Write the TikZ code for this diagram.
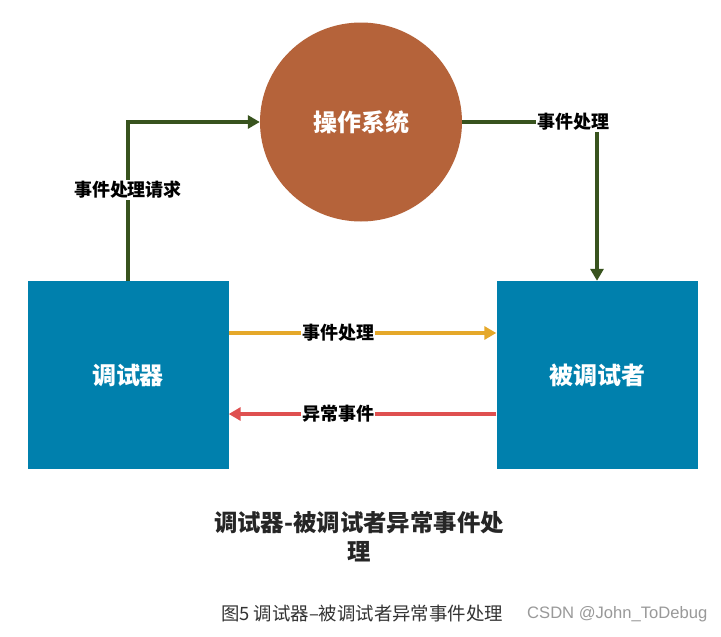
\documentclass[tikz,border=0pt]{standalone}
\usepackage{fontspec}
\setmainfont{Noto Sans CJK SC}
\newfontfamily\latinsans{Liberation Sans}
\usetikzlibrary{arrows.meta,shapes.geometric}
\definecolor{osbrown}{HTML}{B5633A}
\definecolor{boxblue}{HTML}{0080AD}
\definecolor{lgreen}{HTML}{38531E}
\definecolor{lyellow}{HTML}{E5A82A}
\definecolor{lred}{HTML}{DF5050}
\definecolor{capgray}{HTML}{999999}
\begin{document}
\begin{tikzpicture}[x=1pt,y=-1pt,
  bluebox/.style={draw=none,fill=boxblue,minimum width=201pt,minimum height=188pt,inner sep=0pt,text=white,font=\bfseries\fontsize{24}{28}\selectfont},
  osnode/.style={ellipse,fill=osbrown,minimum width=202pt,minimum height=199pt,inner sep=0pt,text=white,font=\bfseries\fontsize{24}{28}\selectfont},
  conn/.style={line width=3.5pt,-{Triangle[length=12pt,width=13pt]}},
  elabel/.style={fill=white,inner sep=1pt,font=\bfseries\fontsize{18}{21}\selectfont,text=black}]
\useasboundingbox (0,0) rectangle (721,637);
\fill[white] (0,0) rectangle (721,637);
\node[osnode] (os) at (361,122) {操作系统};
\node[bluebox] (dbg) at (128,375) {调试器};
\node[bluebox] (dbe) at (597,375) {被调试者};
\coordinate (c1) at (128,122);
\coordinate (c2) at (597,122);
\draw[conn,lgreen] (dbg.north -| c1) -- (c1) -- (os.west);
\draw[conn,lgreen] (os.east) -- (c2) -- (dbe.north -| c2);
\node[elabel] (l1) at (128,190) {事件处理请求};
\node[elabel] (l2) at (573,122) {事件处理};
\draw[conn,lyellow] (dbg.east |- 0,333) -- (dbe.west |- 0,333) node[elabel,pos=0.41] (l3) {事件处理};
\draw[conn,lred] (dbe.west |- 0,414) -- (dbg.east |- 0,414) node[elabel,pos=0.59] (l4) {异常事件};
\node[font=\bfseries\fontsize{23.4}{29}\selectfont,align=center,text=black!85] (title) at (359,537) {调试器-被调试者异常事件处\\理};
\node[anchor=west,font=\fontsize{18.4}{21}\selectfont,text=black!80,inner sep=0pt] (cap) at (221,614) {图5 调试器–被调试者异常事件处理};
\node[anchor=west,font=\latinsans\fontsize{16.6}{19}\selectfont,text=capgray,inner sep=0pt] (csdn) at (527,614) {CSDN @John\_ToDebug};
\end{tikzpicture}
\end{document}
